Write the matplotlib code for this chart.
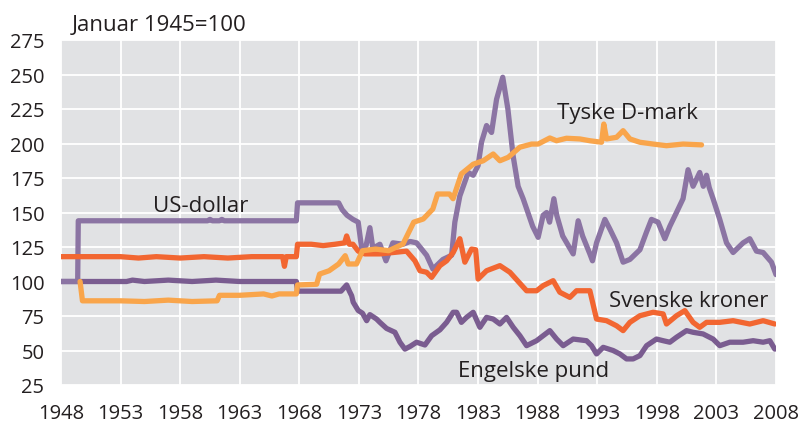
import matplotlib
matplotlib.use("Agg")
import matplotlib.pyplot as plt

# Exchange-rate indices against NOK, January 1945 = 100
usd_years = [1948.0, 1949.4, 1949.45, 1955.0, 1960.3, 1960.5, 1960.7, 1961.3, 1961.5, 1961.7,
             1967.75, 1967.85, 1971.3, 1971.6, 1972.0, 1972.5, 1972.94, 1973.23, 1973.6,
             1973.92, 1974.17, 1974.76, 1975.27, 1975.85, 1976.69, 1977.3, 1977.84, 1978.68,
             1979.21, 1980.05, 1980.78, 1981.05, 1981.47, 1982.17, 1982.59, 1983.0, 1983.29,
             1983.71, 1984.13, 1984.55, 1985.07, 1985.5, 1985.94, 1986.36, 1986.78, 1987.58,
             1988.04, 1988.46, 1988.75, 1989.0, 1989.36, 1989.6, 1990.1, 1990.98, 1991.4,
             1991.77, 1992.38, 1992.6, 1992.94, 1993.64, 1994.06, 1994.62, 1995.17, 1995.74,
             1996.58, 1997.14, 1997.55, 1998.1, 1998.67, 1999.09, 1999.65, 2000.2, 2000.62,
             2001.04, 2001.6, 2001.9, 2002.17, 2002.4, 2002.72, 2003.28, 2003.85, 2004.4,
             2005.24, 2005.8, 2006.36, 2006.92, 2007.62, 2008.0]
usd_values = [100, 100, 144, 144, 144, 145, 144, 144, 145, 144,
              144, 157, 157, 152, 148, 145, 143, 124, 126,
              139, 124, 127, 115, 128, 127, 129, 128, 119,
              109, 116, 119, 143, 162, 179, 177, 184, 201,
              213, 208, 232, 248, 225, 191, 169, 160, 140,
              132, 148, 150, 143, 160, 148, 133, 120, 144,
              133, 120, 115, 128, 145, 138, 128, 114, 116,
              123, 136, 145, 143, 131, 140, 150, 160, 181,
              169, 179, 169, 177, 168, 160, 145, 128, 121,
              128, 131, 122, 121, 114, 105]

gbp_years = [1948.0, 1953.5, 1954.0, 1955.0, 1957.0, 1959.0, 1961.0, 1963.0, 1967.75, 1967.85,
             1970.0, 1971.5, 1971.97, 1972.2, 1972.39, 1972.52, 1972.94, 1973.3, 1973.65,
             1973.92, 1974.48, 1974.76, 1975.32, 1976.02, 1976.44, 1976.86, 1977.3, 1977.84,
             1978.54, 1979.1, 1979.8, 1980.36, 1980.91, 1981.2, 1981.6, 1982.03, 1982.59,
             1983.15, 1983.71, 1984.27, 1984.83, 1985.39, 1985.95, 1986.51, 1987.07, 1987.91,
             1989.02, 1989.59, 1990.14, 1990.98, 1992.1, 1992.52, 1992.94, 1993.5, 1994.33,
             1994.9, 1995.46, 1996.01, 1996.58, 1997.14, 1997.97, 1998.53, 1999.09, 1999.65,
             2000.49, 2001.04, 2001.88, 2002.72, 2003.28, 2004.12, 2005.24, 2006.08, 2006.92,
             2007.48, 2007.9]
gbp_values = [100, 100, 101, 100, 101, 100, 101, 100, 100, 93,
              93, 93, 97.5, 93, 89.7, 85, 79, 77, 71.6,
              76, 72.8, 70.4, 66, 63.2, 56, 51, 53, 56,
              54, 60.7, 65, 70.4, 77.7, 77.7, 70.4, 74, 77.7,
              66.8, 74, 72.8, 69.2, 74, 66.8, 60.7, 53.5, 57.1,
              64.4, 58.3, 53.5, 58.3, 57.1, 53.5, 47.5, 52.3, 50,
              47.5, 43.9, 43.9, 46.3, 53.5, 58.3, 57.1, 56, 59.6,
              64.4, 63.2, 62, 58.3, 53.5, 56, 56, 57.1, 56,
              57.1, 51]

sek_years = [1948.0, 1953.0, 1954.5, 1956.0, 1958.0, 1960.0, 1962.0, 1964.0, 1966.6, 1966.75,
             1966.9, 1967.75, 1967.85, 1969.0, 1970.0, 1971.0, 1971.8, 1971.97, 1972.2, 1972.5,
             1972.94, 1973.5, 1974.76, 1975.88, 1977.0, 1977.7, 1978.12, 1978.68, 1979.1,
             1979.8, 1980.36, 1980.91, 1981.47, 1981.89, 1982.45, 1982.8, 1983.0, 1983.71,
             1984.83, 1985.67, 1987.07, 1987.91, 1988.46, 1989.3, 1989.86, 1990.7, 1991.26,
             1992.38, 1992.94, 1993.78, 1994.62, 1995.17, 1995.74, 1996.58, 1997.69, 1998.53,
             1998.81, 1999.65, 2000.35, 2001.04, 2001.6, 2002.17, 2003.28, 2004.4, 2005.8,
             2006.92, 2007.9]
sek_values = [118, 118, 117, 118, 117, 118, 117, 118, 118, 111,
              118, 118, 127, 127, 126, 127, 128, 133, 127, 127,
              122, 120, 120, 121, 122, 115, 107.8, 106.7, 103,
              111.5, 115, 121, 131, 114, 123.5, 123, 101.8, 107.8,
              111.5, 106.7, 93.3, 93.3, 97, 100.6, 92.2, 88.5, 93.3,
              93.3, 72.8, 71.6, 67.9, 64.4, 70.4, 75.2, 77.7, 76.5,
              69.2, 75.2, 78.9, 70.4, 66.8, 70.4, 70.4, 71.6, 69.2,
              71.6, 69.2]

dem_years = [1949.6, 1949.8, 1953.0, 1955.0, 1957.0, 1959.0, 1961.1, 1961.3, 1963.0, 1965.0,
             1965.7, 1966.3, 1967.75, 1967.85, 1969.45, 1969.7, 1970.5, 1971.3, 1971.85,
             1972.1, 1972.8, 1973.3, 1974.4, 1975.5, 1976.7, 1977.6, 1978.4, 1979.2, 1979.6,
             1980.6, 1980.9, 1981.6, 1982.59, 1983.43, 1984.27, 1984.83, 1985.53, 1986.5,
             1987.49, 1988.04, 1989.02, 1989.58, 1990.42, 1991.54, 1992.38, 1993.36, 1993.55,
             1993.78, 1994.62, 1995.17, 1995.74, 1996.58, 1997.69, 1998.81, 2000.2, 2001.75]
dem_values = [100, 86, 86, 85.5, 86.5, 85.5, 86, 90, 90, 91,
              89.5, 91, 91, 97.5, 98, 105.4, 107.8, 112.7, 118.7,
              112.7, 112.7, 122.3, 123.5, 122.3, 127.2, 143, 145.3, 152.5, 163.4,
              163.4, 160, 178, 185, 187.5, 192.4, 187.5, 190, 197.3,
              199.6, 199.6, 204, 202, 203.8, 203.3, 202, 200.9, 214.1,
              203.3, 204.5, 209.3, 203.3, 200.9, 199.6, 198.4, 199.6, 199]

x_ticks = list(range(1948, 2009, 5))
y_ticks = list(range(25, 276, 25))

COL_USD = "#8b74a3"
COL_GBP = "#7a5c90"
COL_SEK = "#f26631"
COL_DEM = "#f9a54b"
TEXT = "#231f20"

plt.rcParams["font.family"] = ["Open Sans", "DejaVu Sans"]

fig = plt.figure(figsize=(8.02, 4.27), dpi=100)
ax = fig.add_axes([61 / 802, 1 - 386 / 427, 715 / 802, 345 / 427])
ax.set_facecolor("#e1e2e4")

style = dict(lw=3.8, solid_capstyle="round", solid_joinstyle="round")
ax.plot(gbp_years, gbp_values, color=COL_GBP, zorder=3, **style)
ax.plot(usd_years, usd_values, color=COL_USD, zorder=3, **style)
ax.plot(sek_years, sek_values, color=COL_SEK, zorder=4, **style)
ax.plot(dem_years, dem_values, color=COL_DEM, zorder=5, **style)

ax.set_xlim(1948, 2008)
ax.set_ylim(25, 275)
ax.set_xticks(x_ticks)
ax.set_yticks(y_ticks)
ax.grid(True, color="white", lw=1.3, zorder=1)
ax.set_axisbelow(True)
for s in ax.spines.values():
    s.set_visible(False)
ax.tick_params(axis="both", length=0, labelsize=14.5, colors=TEXT)
ax.tick_params(axis="x", pad=13)
ax.tick_params(axis="y", pad=12)

txt = dict(fontsize=16, color=TEXT, zorder=6)
ax.text(1959.74, 151.3, "US-dollar", ha="center", va="baseline", **txt)
ax.text(1995.57, 218.3, "Tyske D-mark", ha="center", va="baseline", **txt)
ax.text(2000.67, 82.0, "Svenske kroner", ha="center", va="baseline", **txt)
ax.text(1987.65, 31.3, "Engelske pund", ha="center", va="baseline", **txt)

fig.text(72 / 802, 1 - 31 / 427, "Januar 1945=100", ha="left", va="baseline",
         fontsize=16, color=TEXT)

fig.savefig("out.png", dpi=100)
